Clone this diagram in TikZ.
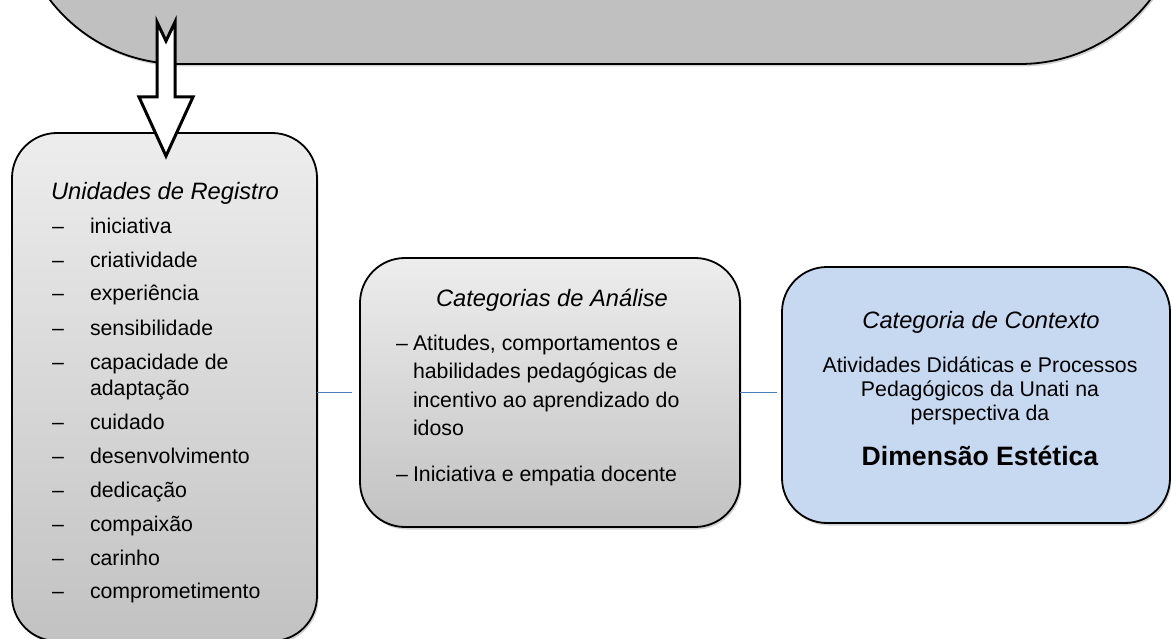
\documentclass[tikz,border=0pt]{standalone}
\usepackage{fontspec}
\setmainfont{Liberation Sans}
\usetikzlibrary{shadows}
\definecolor{topgray}{HTML}{C0C0C0}
\definecolor{gtop}{HTML}{EDEDED}
\definecolor{gbot}{HTML}{C2C2C2}
\definecolor{ctxblue}{HTML}{C6D9F1}
\definecolor{connblue}{HTML}{4A7EBB}
\begin{document}
\begin{tikzpicture}[x=1pt,y=-1pt,
  every node/.style={inner sep=0pt, outer sep=0pt},
  body/.style={font=\fontsize{21.3}{25}\selectfont},
  ttl/.style={font=\fontsize{23.7}{28}\selectfont\itshape, anchor=base},
  big/.style={font=\fontsize{26.6}{31}\selectfont\bfseries, anchor=base},
  itm/.style={body, anchor=base west},
  ctr/.style={body, anchor=base},
  box/.style={draw=black, line width=1.8pt, rounded corners=45pt,
    drop shadow={opacity=0.35, shadow xshift=1.5pt, shadow yshift=-2.5pt}},
  graybox/.style={box, top color=gtop, bottom color=gbot},
  bluebox/.style={box, fill=ctxblue},
  topbox/.style={box, fill=topgray, rounded corners=164pt},
  conn/.style={draw=connblue, line width=1.8pt},
  blockarrow/.style={draw=black, fill=white, line width=3pt, line join=miter, miter limit=10}
]
\useasboundingbox (0,0) rectangle (1171,639);
\clip (0,0) rectangle (1171,639);

% boxes
\node[topbox, minimum width=1168pt, minimum height=464pt] (T) at (600,-168) {};
\node[graybox, minimum width=305pt, minimum height=508pt] (L) at (164.5,387) {};
\node[graybox, minimum width=380pt, minimum height=269pt] (M) at (550,392.5) {};
\node[bluebox, minimum width=388pt, minimum height=256pt] (R) at (976,395) {};

% connectors
\draw[conn] (L.east |- M.west) -- ([xshift=-8pt]M.west);
\draw[conn] (M.east) -- ([xshift=-5pt]R.west |- M.east);

% block arrow from top box to left box
\draw[blockarrow] (157,22) -- (166,41) -- (175,22) -- (175,97) -- (193,97)
  -- (166,156) -- (139,97) -- (157,97) -- cycle;

% left box text
\node[ttl, anchor=base west] (Lt) at (51,200) {Unidades de Registro};
\foreach \yy/\ww [count=\i] in {234/iniciativa, 268/criatividade, 301/experiência,
  335/sensibilidade, 369/capacidade de, 429/cuidado, 463/desenvolvimento,
  497/dedicação, 531/compaixão, 565/carinho, 598/comprometimento}{
  \node[itm] (ld\i) at (52,\yy) {–};
  \node[itm] (lw\i) at (90,\yy) {\ww};
}
\node[itm] (lw5b) at (90,395) {adaptação};

% middle box text
\node[ttl] (Mt) at (552,307) {Categorias de Análise};
\node[itm] (md1) at (396,350) {–};
\node[itm] (mw1) at (413,350) {Atitudes, comportamentos e};
\node[itm] (mw2) at (413,378) {habilidades pedagógicas de};
\node[itm] (mw3) at (413,407) {incentivo ao aprendizado do};
\node[itm] (mw4) at (413,435) {idoso};
\node[itm] (md2) at (396,481) {–};
\node[itm] (mw5) at (413,481) {Iniciativa e empatia docente};

% right box text
\node[ttl] (Rt) at (981,329) {Categoria de Contexto};
\node[ctr] (Rw1) at (980,372) {Atividades Didáticas e Processos};
\node[ctr] (Rw2) at (980,396) {Pedagógicos da Unati na};
\node[ctr] (Rw3) at (980,420) {perspectiva da};
\node[big] (Rb) at (980,465) {Dimensão Estética};
\end{tikzpicture}
\end{document}
